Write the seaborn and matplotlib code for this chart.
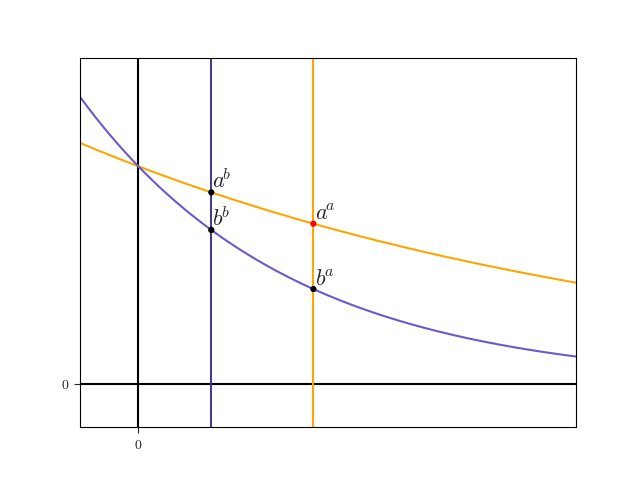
import numpy as np
import pandas as pd
import matplotlib
matplotlib.use("Agg")
import matplotlib.pyplot as plt
import seaborn as sns

# bases
a = 0.6
b = 0.25
x_min, x_max = -0.2, 1.5
y_min, y_max = -0.2, 1.5

sns.set_style("white")
plt.rcParams['mathtext.fontset'] = 'cm'
plt.rcParams['font.family'] = ['DejaVu Serif']

x = np.linspace(x_min, x_max, 400)
curves = pd.DataFrame({'x': np.concatenate([x, x]),
                       'y': np.concatenate([a ** x, b ** x]),
                       'base': ['a'] * len(x) + ['b'] * len(x)})

fig, ax = plt.subplots(figsize=(6.4, 4.8), dpi=100)

ax.axhline(0, color='black', lw=1.5)
ax.axvline(0, color='black', lw=1.5)
ax.axvline(b, color='darkslateblue', lw=1.5)
ax.axvline(a, color='orange', lw=1.5)

sns.lineplot(data=curves, x='x', y='y', hue='base',
             palette={'a': 'orange', 'b': 'slateblue'},
             legend=False, lw=1.5, ax=ax)

pts_x = [b, b, a, a]
pts_y = [a ** b, b ** b, a ** a, b ** a]
pts_lab = [r'$a^{\!b}$', r'$b^{\!b}$', r'$a^{\!a}$', r'$b^{\!a}$']
pts_col = ['black', 'black', 'red', 'black']
ax.scatter(pts_x, pts_y, c=pts_col, s=12, zorder=5)
for px, py, lab in zip(pts_x, pts_y, pts_lab):
    ax.text(px + 0.004, py - 0.005, lab, fontsize=16, va='bottom', ha='left')

ax.set_xlim(x_min, x_max)
ax.set_ylim(y_min, y_max)
ax.set_xticks([0])
ax.set_xticklabels(['$0$'])
ax.set_yticks([0])
ax.set_yticklabels(['$0$'])
ax.tick_params(axis='both', length=4, width=0.8, direction='out',
               bottom=True, left=True, labelsize=10)
ax.set_xlabel('')
ax.set_ylabel('')
for s in ax.spines.values():
    s.set_color('black')
    s.set_linewidth(0.8)

plt.savefig('out.png', dpi=100)
